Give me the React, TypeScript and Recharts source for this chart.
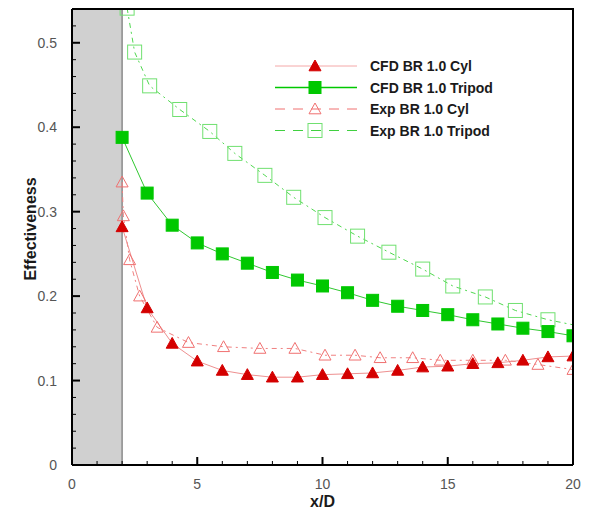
import { CartesianGrid, ComposedChart, Line, XAxis, YAxis } from "recharts"

// CFD runs are sampled at every diameter from the exit to x/D = 20
const cfdX = [2, 3, 4, 5, 6, 7, 8, 9, 10, 11, 12, 13, 14, 15, 16, 17, 18, 19, 20]
const cfdCyl = [0.282, 0.186, 0.144, 0.123, 0.112, 0.107, 0.104, 0.104, 0.107, 0.108, 0.109, 0.112, 0.116, 0.117, 0.12, 0.121, 0.124, 0.128, 0.129]
const cfdTripod = [0.388, 0.322, 0.284, 0.263, 0.25, 0.239, 0.228, 0.219, 0.212, 0.204, 0.195, 0.188, 0.183, 0.178, 0.172, 0.167, 0.162, 0.158, 0.153]

// experiments
const expCylX = [2, 2.05, 2.3, 2.7, 3.4, 4.65, 6.05, 7.5, 8.9, 10.1, 11.3, 12.3, 13.6, 14.7, 16.0, 17.3, 18.6, 20]
const expCyl = [0.335, 0.295, 0.243, 0.2, 0.163, 0.145, 0.14, 0.138, 0.138, 0.13, 0.13, 0.127, 0.127, 0.124, 0.124, 0.124, 0.119, 0.113]
const expTripodX = [2.2, 2.5, 3.1, 4.3, 5.5, 6.5, 7.7, 8.85, 10.1, 11.4, 12.65, 14, 15.2, 16.5, 17.7, 19, 20]
const expTripod = [0.541, 0.489, 0.449, 0.421, 0.395, 0.369, 0.343, 0.317, 0.293, 0.271, 0.252, 0.232, 0.212, 0.199, 0.183, 0.172, 0.166]

// the grey block covers the jet exit, 0 <= x/D <= 2
const exitRegion = [0, 2]

const xTicks = [0, 1, 2, 3, 4, 5, 6, 7, 8, 9, 10, 11, 12, 13, 14, 15, 16, 17, 18, 19, 20]
const xLabels = [0, 5, 10, 15, 20]
const yTicks = [0, 0.02, 0.04, 0.06, 0.08, 0.1, 0.12, 0.14, 0.16, 0.18, 0.2, 0.22, 0.24, 0.26, 0.28, 0.3, 0.32, 0.34, 0.36, 0.38, 0.4, 0.42, 0.44, 0.46, 0.48, 0.5, 0.52]
const yLabels = [0, 0.1, 0.2, 0.3, 0.4, 0.5]

const RED = "#d40000"
const GREEN = "#00c800"
const font = "'Liberation Sans', Arial, sans-serif"
const X_DOMAIN: [number, number] = [0, 20]
const Y_DOMAIN: [number, number] = [0, 0.54]

const W = 590
const H = 511
const MARGIN = { top: 9, right: 17, bottom: 0, left: 0 }
const Y_AXIS_W = 72
const X_AXIS_H = 46

const PLOT = {
  left: MARGIN.left + Y_AXIS_W,
  top: MARGIN.top,
  right: W - MARGIN.right,
  bottom: H - MARGIN.bottom - X_AXIS_H,
}

const toRows = (xs: number[], ys: number[]) => xs.map((x, i) => ({ x, y: ys[i] }))

function Triangle({ cx, cy, filled }: any) {
  const s = 6
  return (
    <polygon
      points={`${cx},${cy - s} ${cx + s},${cy + s * 0.8} ${cx - s},${cy + s * 0.8}`}
      fill={filled ? RED : "none"}
      stroke={filled ? RED : "#f07070"}
      strokeWidth={1}
    />
  )
}

function Square({ cx, cy, filled }: any) {
  const s = filled ? 6 : 7
  return (
    <rect
      x={cx - s}
      y={cy - s}
      width={s * 2}
      height={s * 2}
      fill={filled ? GREEN : "none"}
      stroke={filled ? GREEN : "#70e070"}
      strokeWidth={1}
    />
  )
}

// frame (top/right) and inward tick marks along the left and bottom axes
function FrameAndTicks() {
  const { left, top, right, bottom } = PLOT
  const sx = (v: number) => left + ((v - X_DOMAIN[0]) / (X_DOMAIN[1] - X_DOMAIN[0])) * (right - left)
  const sy = (v: number) => bottom - ((v - Y_DOMAIN[0]) / (Y_DOMAIN[1] - Y_DOMAIN[0])) * (bottom - top)
  return (
    <svg width={W} height={H} style={{ position: "absolute", left: 0, top: 0, zIndex: 5, pointerEvents: "none" }}>
      <rect x={left} y={top - 1} width={right - left + 1} height={2} fill="#000" />
      <rect x={right - 1} y={top - 1} width={2} height={bottom - top + 1} fill="#000" />
      {xTicks.map(t => {
        const major = xLabels.includes(t)
        return <rect key={`x${t}`} x={sx(t) - (major ? 1 : 0.5)} y={bottom - (major ? 8 : 4)} width={major ? 2 : 1} height={major ? 8 : 4} fill="#000" />
      })}
      {yTicks.map(t => {
        const major = yLabels.includes(t)
        return <rect key={`y${t}`} x={left} y={sy(t) - (major ? 1 : 0.5)} width={major ? 8 : 4} height={major ? 2 : 1} fill="#000" />
      })}
    </svg>
  )
}

const legendItems = [
  { name: "CFD BR 1.0 Cyl", stroke: "#f4a8a8", dash: undefined, mark: "tri", filled: true },
  { name: "CFD BR 1.0 Tripod", stroke: GREEN, dash: undefined, mark: "sq", filled: true },
  { name: "Exp BR 1.0 Cyl", stroke: "#f07070", dash: "10 8", mark: "tri", filled: false },
  { name: "Exp BR 1.0 Tripod", stroke: "#40d040", dash: "10 8", mark: "sq", filled: false },
]

function LegendBox() {
  return (
    <svg width={300} height={90} style={{ position: "absolute", left: 270, top: 55, zIndex: 6 }}>
      {legendItems.map((it, i) => {
        const y = 11 + i * 21.5
        return (
          <g key={it.name}>
            <line x1={5} x2={87} y1={y} y2={y} stroke={it.stroke} strokeWidth={it.mark === "sq" && it.filled ? 1.5 : 1} strokeDasharray={it.dash} />
            {it.mark === "tri" ? <Triangle cx={45} cy={y} filled={it.filled} /> : <Square cx={45} cy={y} filled={it.filled} />}
            <text x={100} y={y + 5} fontSize={14} fontWeight="bold" fill="#1a1a1a" fontFamily={font}>
              {it.name}
            </text>
          </g>
        )
      })}
    </svg>
  )
}

export default function App() {
  const lastTripod = expTripodX.length - 1
  return (
    <div style={{ position: "absolute", left: 0, top: 0, width: W, height: H, background: "#fff" }}>
      <ComposedChart width={W} height={H} margin={MARGIN}>
        <CartesianGrid
          horizontal={false}
          verticalValues={exitRegion}
          verticalFill={["#d0d0d0", "#ffffff"]}
          fillOpacity={1}
          stroke="#8a8a8a"
          strokeWidth={1.5}
        />
        <XAxis
          type="number"
          dataKey="x"
          domain={X_DOMAIN}
          ticks={xLabels}
          interval={0}
          tickLine={false}
          tickMargin={8}
          tick={{ fontSize: 14, fill: "#555", fontFamily: font }}
          height={X_AXIS_H}
          axisLine={{ stroke: "#000", strokeWidth: 2 }}
          label={{ value: "x/D", position: "insideBottom", offset: 4, fontSize: 16, fontWeight: "bold", fill: "#1a1a1a", fontFamily: font }}
          allowDataOverflow
        />
        <YAxis
          type="number"
          dataKey="y"
          domain={Y_DOMAIN}
          ticks={yLabels}
          interval={0}
          tickLine={false}
          tickMargin={9}
          tick={{ fontSize: 14, fill: "#555", fontFamily: font }}
          width={Y_AXIS_W}
          axisLine={{ stroke: "#000", strokeWidth: 2 }}
          label={{ value: "Effectiveness", angle: -90, position: "insideLeft", offset: 30, dy: -8, fontSize: 16, fontWeight: "bold", fill: "#1a1a1a", fontFamily: font, style: { textAnchor: "middle" } }}
          allowDataOverflow
        />

        <Line
          data={toRows(expTripodX, expTripod)}
          dataKey="y"
          stroke="#50d850"
          strokeWidth={1}
          strokeDasharray="5 4 2 4"
          isAnimationActive={false}
          dot={(p: any) => (p.index === lastTripod ? <g key={p.key} /> : <Square key={p.key} cx={p.cx} cy={p.cy} filled={false} />)}
        />
        <Line
          data={toRows(cfdX, cfdTripod)}
          dataKey="y"
          stroke="#30c830"
          strokeWidth={1}
          isAnimationActive={false}
          dot={(p: any) => <Square key={p.key} cx={p.cx} cy={p.cy} filled />}
        />
        <Line
          data={toRows(expCylX, expCyl)}
          dataKey="y"
          stroke="#f08080"
          strokeWidth={1}
          strokeDasharray="5 4 2 4"
          isAnimationActive={false}
          dot={(p: any) => <Triangle key={p.key} cx={p.cx} cy={p.cy} filled={false} />}
        />
        <Line
          data={toRows(cfdX, cfdCyl)}
          dataKey="y"
          stroke="#ee9090"
          strokeWidth={1}
          isAnimationActive={false}
          dot={(p: any) => <Triangle key={p.key} cx={p.cx} cy={p.cy} filled />}
        />
      </ComposedChart>
      <FrameAndTicks />
      <LegendBox />
    </div>
  )
}
